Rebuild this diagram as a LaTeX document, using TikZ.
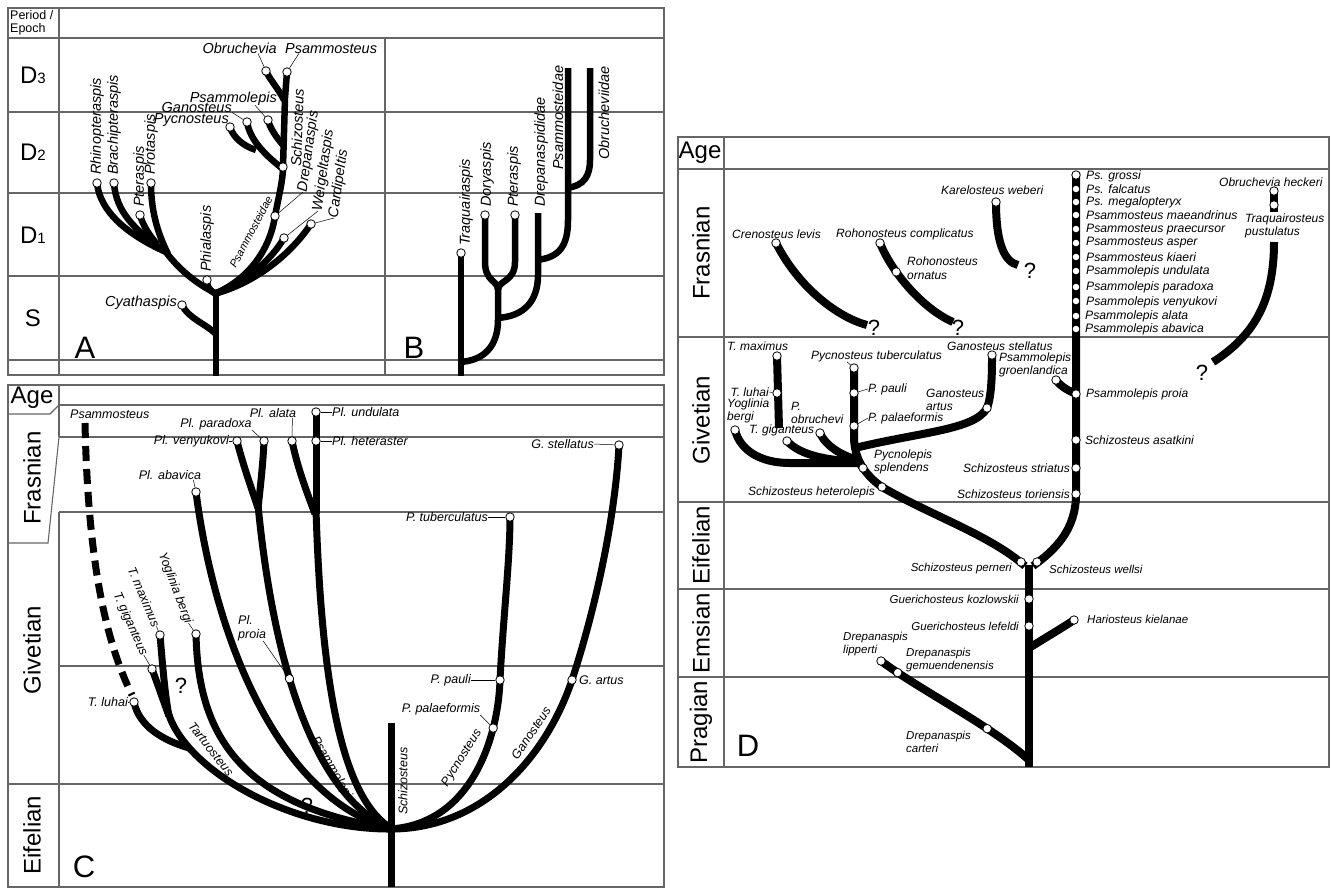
\documentclass[tikz,border=0pt]{standalone}
\usepackage{fontspec}
\setmainfont{Liberation Sans}
\begin{document}
\begin{tikzpicture}[x=1pt,y=-1pt,
  grid/.style={draw=black!60,line width=1.1pt},
  br/.style={line width=6.5pt},
  brc/.style={line width=7pt},
  bw/.style={line width=8pt},
  dot/.style={circle,draw=black,fill=white,line width=0.8pt,inner sep=0pt,minimum size=8.5pt},
  wdot/.style={circle,fill=white,inner sep=0pt,minimum size=6.5pt},
  la/.style={font=\fontsize{14.5}{16}\selectfont\itshape,inner sep=0pt},
  lsm/.style={font=\fontsize{11}{12}\selectfont\itshape,inner sep=0pt},
  lc/.style={font=\fontsize{12.5}{14}\selectfont\itshape,inner sep=0pt,align=left},
  ld/.style={font=\fontsize{12}{13.5}\selectfont\itshape,inner sep=0pt,align=left},
  lp/.style={font=\fontsize{12.2}{13}\selectfont\itshape,inner sep=0pt,align=left},
  le/.style={font=\fontsize{11.5}{13}\selectfont\itshape,inner sep=0pt,align=left},
  lead/.style={line width=0.5pt},
  era/.style={font=\fontsize{24}{26}\selectfont,inner sep=0pt},
  big/.style={font=\fontsize{31}{31}\selectfont,inner sep=0pt},
  qm/.style={font=\fontsize{22}{22}\selectfont,inner sep=0pt},
]
\useasboundingbox (0,0) rectangle (1332,895);

%================ PANEL A / B =================
\draw[grid] (8,8) rectangle (664,375);
\draw[grid] (8,38) -- (664,38);
\foreach \yy in {112,193,276,360} {\draw[grid] (8,\yy) -- (664,\yy);}
\draw[grid] (59,8) -- (59,375);
\draw[grid] (385,38) -- (385,375);
\node[font=\fontsize{12.5}{13.5}\selectfont,align=left,anchor=north west,inner sep=0pt] (pe) at (10,10) {Period /\\Epoch};
\node[era] (rD3) at (33,75) {D{\fontsize{15}{15}\selectfont 3}};
\node[era] (rD2) at (33,152) {D{\fontsize{15}{15}\selectfont 2}};
\node[era] (rD1) at (33,235) {D{\fontsize{15}{15}\selectfont 1}};
\node[era] (rS) at (33,318) {S};
\node[big] (pA) at (85,348) {A};
\node[big] (pB) at (414,348) {B};

% tree A
\draw[br] (216,376) -- (216,292);
\draw[br] (216,334) .. controls (206,324) and (188,318) .. (182,305);
\draw[br] (216,294) .. controls (209,290) and (207,287) .. (207,280);
\draw[br] (217,294) .. controls (195,283) and (177,268) .. (163,248);
\draw[br] (166,252) .. controls (128,235) and (100,212) .. (97,183);
\draw[br] (163,250) .. controls (135,230) and (116,212) .. (114,183);
\draw[br] (157,244) .. controls (150,236) and (143,226) .. (140,215);
\draw[br] (168,254) .. controls (157,232) and (151,210) .. (151,183);
\draw[br] (214,294) .. controls (248,280) and (270,250) .. (275,216) .. controls (279,195) and (283,180) .. (283,167) -- (285,98) -- (287,72);
\draw[br] (284,100) .. controls (278,88) and (270,80) .. (266,71);
\draw[br] (283,145) .. controls (276,137) and (270,128) .. (268,120);
\draw[br] (283,169) .. controls (265,155) and (250,140) .. (247,122);
\draw[br] (256,150) .. controls (243,146) and (233,137) .. (230,127);
\draw[br] (214,294) .. controls (245,282) and (270,262) .. (284,238);
\draw[br] (214,294) .. controls (255,283) and (290,255) .. (311,224);

\node[dot] (cCya) at (182,305) {};
\node[dot] (cPhi) at (207,280) {};
\node[dot] (cRhi) at (97,183) {};
\node[dot] (cBra) at (114,183) {};
\node[dot] (cPte) at (140,215) {};
\node[dot] (cPro) at (151,183) {};
\node[dot] (cDre) at (275,216) {};
\node[dot] (cSch) at (283,167) {};
\node[dot] (cObr) at (266,71) {};
\node[dot] (cPsa) at (287,72) {};
\node[dot] (cPsl) at (268,120) {};
\node[dot] (cGan) at (247,122) {};
\node[dot] (cPyc) at (230,127) {};
\node[dot] (cWei) at (284,238) {};
\node[dot] (cCar) at (311,224) {};

\node[la,anchor=east] (lCya) at (177,303) {Cyathaspis};
\node[la,rotate=90,anchor=west] (lPhi) at (207,272) {Phialaspis};
\node[la,rotate=90,anchor=west] (lRhi) at (97,175) {Rhinopteraspis};
\node[la,rotate=90,anchor=west] (lBra) at (114,175) {Brachipteraspis};
\node[la,rotate=90,anchor=west] (lPte) at (140,207) {Pteraspis};
\node[la,rotate=90,anchor=west] (lPro) at (151,175) {Protaspis};
\node[la,rotate=88,anchor=west] (lSch) at (296,167) {Schizosteus};
\node[la,rotate=82,anchor=west] (lDre) at (303,192) {Drepanaspis};
\node[la,rotate=82,anchor=west] (lWei) at (318,211) {Weigeltaspis};
\node[la,rotate=82,anchor=west] (lCar) at (334,218) {Cardipeltis};
\node[lsm,rotate=62] (lPsd) at (251,232) {Psammosteidae};
\node[la,anchor=base east] (lObr) at (277,53) {Obruchevia};
\node[la,anchor=base west] (lPsa) at (285,53) {Psammosteus};
\node[la,anchor=base east] (lPsl) at (277,102) {Psammolepis};
\node[la,anchor=base east] (lGan) at (232,112) {Ganosteus};
\node[la,anchor=base east] (lPyc) at (229,123) {Pycnosteus};
\draw[lead] (cDre) -- (lDre.west);
\draw[lead] (cWei) -- (lWei.west);
\draw[lead] (cCar) -- (lCar.west);
\draw[lead] ([xshift=-19pt]lObr.south east) -- (cObr);
\draw[lead] ([xshift=14pt]lPsa.south west) -- (cPsa);
\draw[lead] ([xshift=-22pt]lPsl.south east) -- (cPsl);
\draw[lead] (lGan.south east) -- (cGan);

% tree B
\draw[br] (461,376) -- (461,253);
\draw[br] (459,362) .. controls (485,361) and (498,345) .. (498,320) -- (498,288);
\draw[br] (498,290) .. controls (498,280) and (485,282) .. (485,262) -- (485,215);
\draw[br] (498,290) .. controls (498,280) and (515,282) .. (515,262) -- (515,215);
\draw[br] (496,318) .. controls (525,317) and (538,300) .. (538,275) -- (538,213);
\draw[br] (536,260) .. controls (560,258) and (568,245) .. (568,220) -- (568,68);
\draw[br] (566,188) .. controls (585,186) and (590,175) .. (590,160) -- (590,68);
\node[dot] (cTra) at (461,253) {};
\node[dot] (cDor) at (485,215) {};
\node[dot] (cPtB) at (515,215) {};
\node[la,rotate=90,anchor=west] (lTra) at (466,246) {Traquairaspis};
\node[la,rotate=90,anchor=west] (lDor) at (487,207) {Doryaspis};
\node[la,rotate=90,anchor=west] (lPtB) at (514,207) {Pteraspis};
\node[la,rotate=90,anchor=west] (lDpd) at (541,207) {Drepanaspididae};
\node[la,rotate=90,anchor=west] (lPsB) at (558,170) {Psammosteidae};
\node[la,rotate=90,anchor=west] (lObd) at (604,160) {Obrucheviidae};

%================ PANEL C =================
\draw[grid] (8,385) rectangle (664,887);
\draw[grid] (59,405) -- (664,405);
\draw[grid] (8,414) -- (50,414) -- (59,405);
\draw[grid] (59,385) -- (59,437);
\draw[grid] (59,437) -- (664,437);
\draw[grid] (59,437) -- (48,543) -- (8,543);
\draw[grid] (59,512) -- (664,512);
\draw[grid] (59,666) -- (664,666);
\draw[grid] (8,784) -- (664,784);
\draw[grid] (59,512) -- (59,887);
\node[era] (rAgeC) at (32,398) {Age};
\node[era,rotate=90] (rFrC) at (32,478) {Frasnian};
\node[era,rotate=90] (rGvC) at (32,650) {Givetian};
\node[era,rotate=90] (rEfC) at (32,835) {Eifelian};
\node[big] (pC) at (84,867) {C};

\draw[brc,dash pattern=on 15pt off 8pt] (85,423) .. controls (88,560) and (105,640) .. (132,695);
\draw[brc] (391,723) -- (391,887);
\draw[brc] (168,712) .. controls (185,770) and (290,830) .. (392,829);
\draw[brc] (160,635) .. controls (163,670) and (165,695) .. (169,716);
\draw[brc] (152,669) .. controls (158,685) and (163,700) .. (169,716);
\draw[brc] (134,702) .. controls (139,726) and (162,740) .. (189,748);
\draw[brc] (196,634) .. controls (198,730) and (235,805) .. (392,829);
\draw[brc] (196,492) .. controls (215,640) and (280,800) .. (392,829);
\draw[brc] (237,441) .. controls (243,465) and (252,490) .. (258,508);
\draw[brc] (264,441) .. controls (263,465) and (260,490) .. (258,508);
\draw[brc] (258,505) .. controls (275,680) and (320,800) .. (392,829) coordinate[pos=0.38] (proiaP);
\draw[brc] (292,441) .. controls (298,470) and (308,495) .. (315,514);
\draw[brc] (316,412) -- (316,514);
\draw[brc] (316,510) .. controls (322,700) and (345,800) .. (392,829);
\draw[brc] (389,829) .. controls (470,825) and (498,740) .. (500,680) coordinate[pos=0.75] (palP) .. controls (503,620) and (510,560) .. (510,517);
\draw[brc] (389,829) .. controls (480,830) and (545,760) .. (572,680) .. controls (595,610) and (615,520) .. (619,445);

\node[dot] (cPlu) at (316,412) {};
\node[dot] (cPlh) at (316,441) {};
\node[dot] (cPla) at (292,441) {};
\node[dot] (cPlp) at (264,441) {};
\node[dot] (cPlv) at (237,441) {};
\node[dot] (cPlab) at (196,492) {};
\node[dot] (cPtu) at (510,517) {};
\node[dot] (cGst) at (619,445) {};
\node[dot] (cPpa) at (500,680) {};
\node[dot] (cPpl) at (palP) {};
\node[dot] (cGar) at (572,680) {};
\node[dot] (cProia) at (proiaP) {};
\node[dot] (cTmax) at (160,635) {};
\node[dot] (cYog) at (196,634) {};
\node[dot] (cTgig) at (152,669) {};
\node[dot] (cTluh) at (134,702) {};

\node[lc,anchor=base west] (lPsC) at (70,418) {Psammosteus};
\node[lc,anchor=west] (lPlu) at (332,412) {Pl. undulata};
\node[lc,anchor=west] (lPlh) at (332,441) {Pl. heteraster};
\node[lc] (lPla) at (273,413) {Pl. alata};
\node[lc] (lPlp) at (216,424) {Pl. paradoxa};
\node[lc,anchor=east] (lPlv) at (229,441) {Pl. venyukovi};
\node[lc] (lPlab) at (170,475) {Pl. abavica};
\node[lc,anchor=east] (lPtu) at (488,517) {P. tuberculatus};
\node[lc,anchor=east] (lGst) at (594,444) {G. stellatus};
\node[lc,anchor=east] (lPpa) at (471,680) {P. pauli};
\node[lc] (lPpl) at (441,709) {P. palaeformis};
\node[lc,anchor=west] (lGar) at (579,680) {G. artus};
\node[lc,anchor=east] (lTlu) at (128,702) {T. luhai};
\node[lc,anchor=west] (lProia) at (238,628) {Pl.\\proia};
\node[lc,rotate=-67] (lTmax) at (144,597) {T. maximus};
\node[lc,rotate=-69] (lYog) at (175,588) {Yoglinia bergi};
\node[lc,rotate=-66] (lTgig) at (130,624) {T. giganteus};
\node[lc,rotate=-52] (lTar) at (211,749) {Tartuosteus};
\node[lc,rotate=-60] (lPsm) at (333,770) {Psammolepis};
\node[lc,rotate=58] (lPycC) at (462,758) {Pycnosteus};
\node[lc,rotate=56] (lGanC) at (531,733) {Ganosteus};
\node[lc,rotate=90,anchor=west] (lSchC) at (403,815) {Schizosteus};
\node[qm] (q1) at (181,686) {?};
\node[qm] (q2) at (307,806) {?};

\draw[lead] (cPlu) -- (lPlu.west);
\draw[lead] (cPlh) -- (lPlh.west);
\draw[lead] ([xshift=-4pt]lPla.south east) -- (cPla);
\draw[lead] (lPlp.south east) -- (cPlp);
\draw[lead] (lPlv.east) -- (cPlv);
\draw[lead] ([xshift=-8pt]lPlab.south east) -- (cPlab);
\draw[lead] (lPtu.east) -- (cPtu);
\draw[lead] (lGst.east) -- (cGst);
\draw[lead] (lPpa.east) -- (cPpa);
\draw[lead] (lPpl.south east) -- (cPpl);
\draw[lead] (lTlu.east) -- (cTluh);
\draw[lead] ([xshift=-3pt]lProia.south east) -- (cProia);
\draw[lead] (lTmax.east) -- (cTmax);
\draw[lead] (lYog.east) -- (cYog);
\draw[lead] (lTgig.east) -- (cTgig);

%================ PANEL D =================
\draw[grid] (678,137) rectangle (1329,767);
\draw[grid] (678,169) -- (1329,169);
\draw[grid] (724,137) -- (724,767);
\foreach \yy in {337,502,589,677} {\draw[grid] (678,\yy) -- (1329,\yy);}
\node[era] (rAgeD) at (700,153) {Age};
\node[era,rotate=90] (rFrD) at (701,253) {Frasnian};
\node[era,rotate=90] (rGvD) at (701,420) {Givetian};
\node[era,rotate=90] (rEfD) at (701,545) {Eifelian};
\node[era,rotate=90] (rEmD) at (701,633) {Emsian};
\node[era,rotate=90] (rPrD) at (701,722) {Pragian};
\node[big] (pD) at (748,746) {D};

% Frasnian
\draw[bw] (776,243) .. controls (800,290) and (840,318) .. (867,325);
\draw[bw] (880,243) .. controls (893,275) and (925,310) .. (953,322) coordinate[pos=0.3] (ornP);
\draw[bw] (996,202) .. controls (996,245) and (1005,262) .. (1018,265);
\draw[bw] (1274,242) .. controls (1274,300) and (1255,335) .. (1213,362);
\draw[bw] (1274,188) -- (1274,212);
\draw[bw] (1076,172) -- (1076,494) .. controls (1076,530) and (1055,550) .. (1033,566);
\draw[bw] (1056,380) .. controls (1062,388) and (1070,391) .. (1076,394);
% Givetian
\draw[bw] (777,356) -- (779,428);
\draw[bw] (858,463) -- (790,463) .. controls (760,463) and (740,450) .. (735,430);
\draw[bw] (858,462) .. controls (825,460) and (800,455) .. (787,441);
\draw[bw] (858,460) .. controls (840,455) and (825,445) .. (820,433);
\draw[bw] (854,368) -- (854,440) .. controls (855,452) and (858,460) .. (863,468);
\draw[bw] (855,448) .. controls (920,432) and (975,430) .. (987,408) .. controls (992,395) and (992,370) .. (992,355);
\draw[bw] (859,462) .. controls (865,472) and (872,480) .. (882,487) .. controls (930,515) and (990,535) .. (1025,566);
% trunk
\draw[bw] (1029,565) -- (1029,767);
\draw[bw] (1029,648) .. controls (1045,638) and (1062,628) .. (1074,620);
\draw[bw] (1029,760) .. controls (990,725) and (920,690) .. (881,661) coordinate[pos=0.3] (carP) coordinate[pos=0.87] (gemP);

\node[dot] (cCre) at (776,243) {};
\node[dot] (cRco) at (880,243) {};
\node[dot] (cRor) at (ornP) {};
\node[dot] (cKar) at (996,202) {};
\node[dot] (cOh1) at (1274,191) {};
\node[dot] (cOh2) at (1274,205) {};
\node[dot] (cTmx) at (777,356) {};
\node[dot] (cTlu) at (777,393) {};
\node[dot] (cYb) at (735,430) {};
\node[dot] (cTg) at (787,441) {};
\node[dot] (cPob) at (820,433) {};
\node[dot] (cPtub) at (854,368) {};
\node[dot] (cPpau) at (854,393) {};
\node[dot] (cPpal) at (854,426) {};
\node[dot] (cPspl) at (863,468) {};
\node[dot] (cShet) at (882,487) {};
\node[dot] (cGart) at (987,408) {};
\node[dot] (cGste) at (992,355) {};
\node[dot] (cPgro) at (1056,380) {};
\node[dot] (cPpro) at (1076,394) {};
\node[dot] (cSasa) at (1076,440) {};
\node[dot] (cSstr) at (1076,468) {};
\node[dot] (cStor) at (1076,494) {};
\node[dot] (cSper) at (1021,562) {};
\node[dot] (cSwel) at (1037,562) {};
\node[dot] (cGkoz) at (1029,599) {};
\node[dot] (cGlef) at (1029,626) {};
\node[dot] (cHar) at (1074,620) {};
\node[dot] (cDli) at (881,661) {};
\node[dot] (cDge) at (gemP) {};
\node[dot] (cDca) at (carP) {};
\node[dot] (cPs0) at (1076,175) {};
\foreach \yy/\nm in {189/a,202/b,215/c,229/d,243/e,257/f,271/g,287/h,301/i,316/j,329/k} {\node[wdot] (cPs\nm) at (1076,\yy) {};}

\node[lp,anchor=west] (lPs0) at (1086,176) {Ps. grossi};
\node[lp,anchor=west] (lPsa1) at (1086,189) {Ps. falcatus};
\node[lp,anchor=west] (lPsb) at (1086,202) {Ps. megalopteryx};
\node[lp,anchor=west] (lPsc) at (1086,215) {Psammosteus maeandrinus};
\node[lp,anchor=west] (lPsd1) at (1086,230) {Psammosteus praecursor};
\node[lp,anchor=west] (lPse) at (1086,243) {Psammosteus asper};
\node[lp,anchor=west] (lPsf) at (1086,257) {Psammosteus kiaeri};
\node[lp,anchor=west] (lPsg) at (1086,271) {Psammolepis undulata};
\node[lp,anchor=west] (lPsh) at (1086,287) {Psammolepis paradoxa};
\node[lp,anchor=west] (lPsi) at (1086,302) {Psammolepis venyukovi};
\node[lp,anchor=west] (lPsj) at (1085,316) {Psammolepis alata};
\node[lp,anchor=west] (lPsk) at (1085,329) {Psammolepis abavica};

\node[ld,anchor=west] (lKar) at (941,190) {Karelosteus weberi};
\node[ld,anchor=west] (lCre) at (732,234) {Crenosteus levis};
\node[ld,anchor=west] (lRco) at (836,234) {Rohonosteus complicatus};
\node[ld,anchor=west] (lRor) at (907,268) {Rohonosteus\\ornatus};
\node[ld,anchor=west] (lOh) at (1219,182) {Obruchevia heckeri};
\node[ld,anchor=west] (lTrq) at (1245,226) {Traquairosteus\\pustulatus};
\node[qm] (q3) at (874,328) {?};
\node[qm] (q4) at (958,328) {?};
\node[qm] (q5) at (1030,271) {?};
\node[qm] (q6) at (1202,373) {?};

\node[ld,anchor=west] (lTmx) at (727,346) {T. maximus};
\node[ld,anchor=west] (lPtub) at (811,356) {Pycnosteus tuberculatus};
\node[ld,anchor=west] (lGste) at (947,346) {Ganosteus stellatus};
\node[ld,anchor=west] (lPgro) at (999,365) {Psammolepis\\groenlandica};
\node[ld,anchor=east] (lTlu2) at (769,392) {T. luhai};
\node[ld,anchor=west] (lYb) at (727,411) {Yoglinia\\bergi};
\node[ld,anchor=west] (lPob) at (791,413) {P.\\obruchevi};
\node[ld,anchor=west] (lTg) at (749,430) {T. giganteus};
\node[ld,anchor=west] (lPpau) at (868,389) {P. pauli};
\node[ld,anchor=west] (lPpal) at (868,418) {P. palaeformis};
\node[ld,anchor=west] (lGart) at (926,400) {Ganosteus\\artus};
\node[ld,anchor=west] (lPspl) at (874,462) {Pycnolepis\\splendens};
\node[ld,anchor=east] (lShet) at (875,492) {Schizosteus heterolepis};
\node[ld,anchor=west] (lPpro) at (1086,394) {Psammolepis proia};
\node[ld,anchor=west] (lSasa) at (1085,440) {Schizosteus asatkini};
\node[ld,anchor=east] (lSstr) at (1070,468) {Schizosteus striatus};
\node[ld,anchor=east] (lStor) at (1070,494) {Schizosteus toriensis};
\node[le,anchor=east] (lSper) at (1012,569) {Schizosteus perneri};
\node[le,anchor=west] (lSwel) at (1049,569) {Schizosteus wellsi};
\node[le,anchor=east] (lGkoz) at (1019,599) {Guerichosteus kozlowskii};
\node[le,anchor=east] (lGlef) at (1019,626) {Guerichosteus lefeldi};
\node[le,anchor=west] (lHar) at (1087,619) {Hariosteus kielanae};
\node[le,anchor=west] (lDli) at (843,644) {Drepanaspis\\lipperti};
\node[le,anchor=west] (lDge) at (906,660) {Drepanaspis\\gemuendenensis};
\node[le,anchor=west] (lDca) at (906,742) {Drepanaspis\\carteri};

\draw[lead] (lTlu2.east) -- (cTlu);
\draw[lead] ([xshift=36pt]lPtub.south west) -- (cPtub);
\draw[lead] (cPpau) -- (lPpau.west);
\draw[lead] (cPpal) -- (lPpal.west);
\end{tikzpicture}
\end{document}
